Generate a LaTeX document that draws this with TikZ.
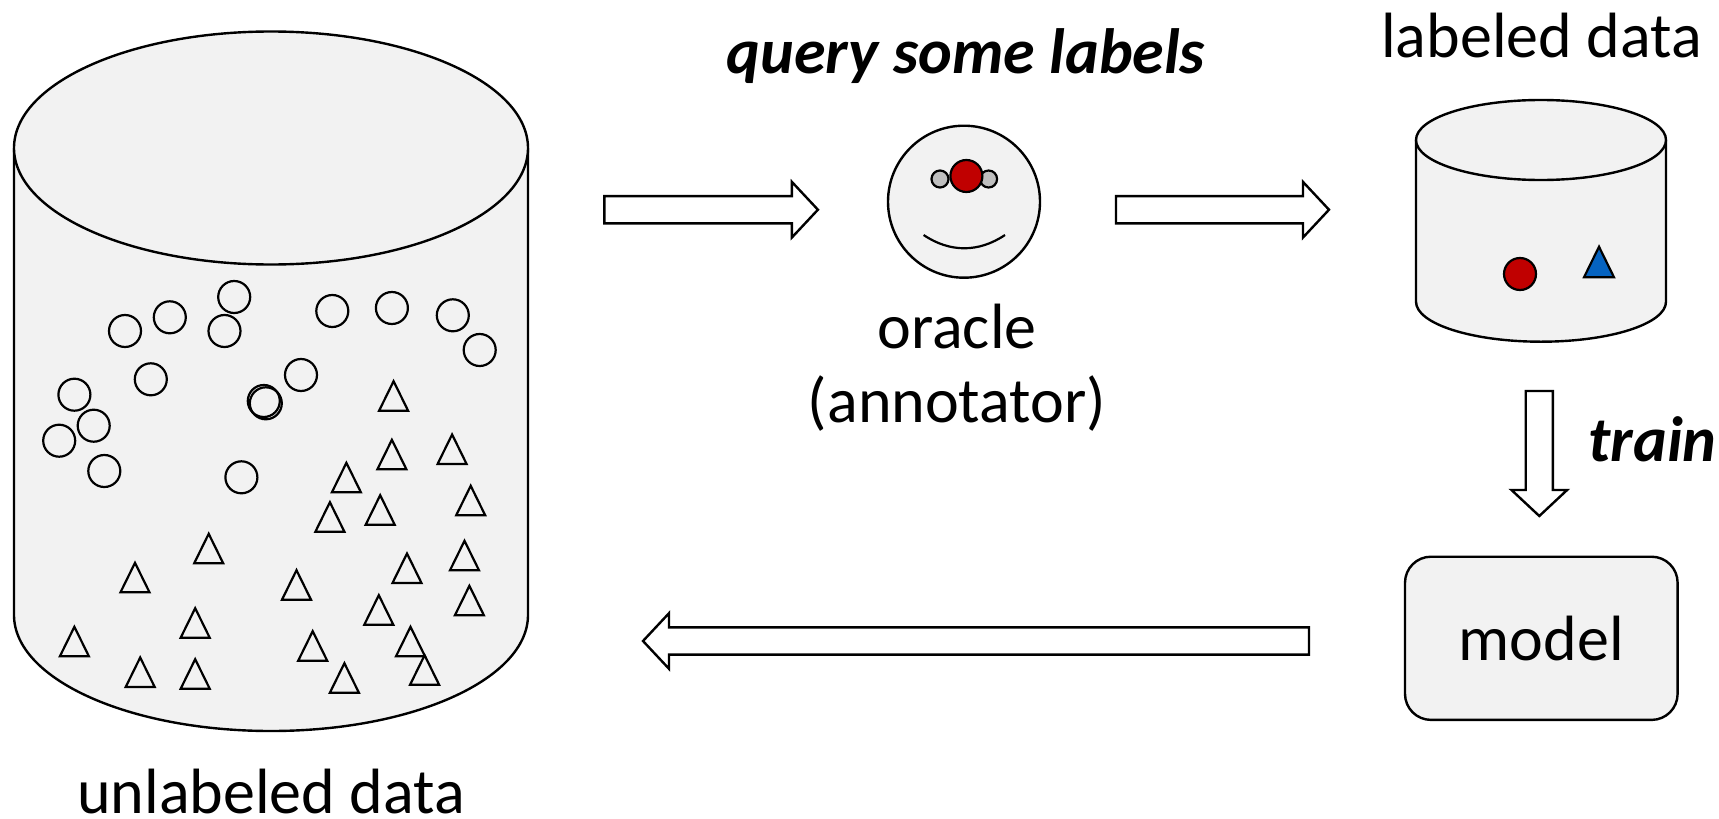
\documentclass[tikz,border=0pt]{standalone}
\usepackage{fontspec}
\setmainfont{Carlito}
\usetikzlibrary{calc}

\definecolor{canfill}{HTML}{F2F2F2}
\definecolor{hitred}{HTML}{C00000}
\definecolor{hitblue}{HTML}{0563C1}
\definecolor{eargray}{HTML}{BFBFBF}

\tikzset{
    can/.style={draw=black, fill=canfill, line width=1.2pt},
    item/.style={circle, draw=black, line width=1.1pt, inner sep=0pt, minimum size=16pt},
    tri/.style={draw=black, line width=1.1pt},
    title/.style={font=\fontsize{32}{37}\selectfont, align=center, anchor=base, inner sep=0pt},
    action/.style={font=\fontsize{32}{37}\selectfont\bfseries\itshape, anchor=base, inner sep=0pt},
    blockarrow/.style={draw=black, fill=white, line width=1.2pt, to path={
        -- ($(\tikztostart)!6.8pt!90:(\tikztotarget)$)
        -- ($(\tikztotarget)!13pt!(\tikztostart)!6.8pt!90:(\tikztotarget)$)
        -- ($(\tikztotarget)!13pt!(\tikztostart)!13.9pt!90:(\tikztotarget)$)
        -- (\tikztotarget)
        -- ($(\tikztotarget)!13pt!(\tikztostart)!13.9pt!-90:(\tikztotarget)$)
        -- ($(\tikztotarget)!13pt!(\tikztostart)!6.8pt!-90:(\tikztotarget)$)
        -- ($(\tikztostart)!6.8pt!-90:(\tikztotarget)$)
        -- cycle}}
}

\begin{document}
\begin{tikzpicture}[x=0.5pt, y=-0.5pt]
    \useasboundingbox (0,0) rectangle (1719,819);

    % Unlabeled pool
    \draw[can] (14,148) -- (14,615) arc[start angle=180, end angle=0, x radius=257, y radius=116] -- (528,148);
    \draw[can] (271,148) ellipse[x radius=257, y radius=116.5];
    \node[title] (pooltext) at (271,813) {unlabeled data};

    % Circles
    \foreach \x/\y [count=\i] in {125/331, 169.8/317.3, 234.2/297, 224.5/331, 332.3/311, 391.9/308, 452.8/315.3, 479.7/350, 150.8/379.3, 301/375, 74.4/394.7, 93.7/425.7, 59.2/440.7, 104.3/471, 241.4/477.3, 263.8/401, 265.8/403.3}
        \node[item] (c\i) at (\x,\y) {};

    % Triangles
    \foreach \x/\y in {393.6/410.7, 391.9/469.3, 452.1/464, 346.4/492.3, 470.7/515.3, 329.9/531.7, 380.2/524.7, 208.7/563.3, 135/592.3, 464.5/570.3, 407/583, 296.5/599.7, 469.4/615.3, 378.8/624.7, 195.2/637.7, 74.4/656.3, 312.7/660.7, 410.5/656.3, 424.6/684.7, 344.4/692.7, 140.2/687, 195.2/688.7}
        \draw[tri] (\x-14.5,\y) -- (\x,\y-29.5) -- (\x+14.5,\y) -- cycle;

    % Oracle
    \node[can, circle, inner sep=0pt, minimum size=76pt] (oracle) at (964,201.7) {};
    \node[item, fill=eargray, minimum size=8.5pt] (earleft) at (940,179) {};
    \node[item, fill=eargray, minimum size=8.5pt] (earright) at (988.6,179) {};
    \node[item, fill=hitred] (nose) at (966.4,176) {};
    \draw[line width=1.1pt] (923.6,235) .. controls (950,252.7) and (978.5,252.7) .. (1005,235);
    \node[action] (querytext) at (966,73) {query some labels};
    \node[title] (oracletext) at (957,422) {oracle\\(annotator)};

    % Labeled data
    \draw[can] (1416,140) -- (1416,301.7) arc[start angle=180, end angle=0, x radius=125, y radius=40] -- (1666,140);
    \draw[can] (1541,140) ellipse[x radius=125, y radius=40];
    \node[title] (labeledtext) at (1541.5,57) {labeled data};
    \node[item, fill=hitred] (hitcircle) at (1520,274) {};
    \draw[tri, fill=hitblue] (1584,277.3) -- (1599,246.7) -- (1614,277.3) -- cycle;

    % Model
    \node[can, rounded corners=13pt, minimum width=136.3pt, minimum height=81.6pt, font=\fontsize{32}{37}\selectfont] (model) at (1541.3,638.3) {\raisebox{-1pt}{model}};
    \node[action] (traintext) at (1652.5,461.7) {train};

    % Arrows
    \coordinate (queryfrom) at (604.3,209.7);
    \coordinate (queryto) at (817.9,209.7);
    \coordinate (storefrom) at (1116,209.7);
    \coordinate (storeto) at (1329,209.7);
    \coordinate (trainfrom) at (1539.3,391);
    \coordinate (trainto) at (1539.3,516);
    \coordinate (selectfrom) at (1309,641);
    \coordinate (selectto) at (643,641);
    \draw[blockarrow] (queryfrom) to (queryto);
    \draw[blockarrow] (storefrom) to (storeto);
    \draw[blockarrow] (trainfrom) to (trainto);
    \draw[blockarrow] (selectfrom) to (selectto);
\end{tikzpicture}
\end{document}
